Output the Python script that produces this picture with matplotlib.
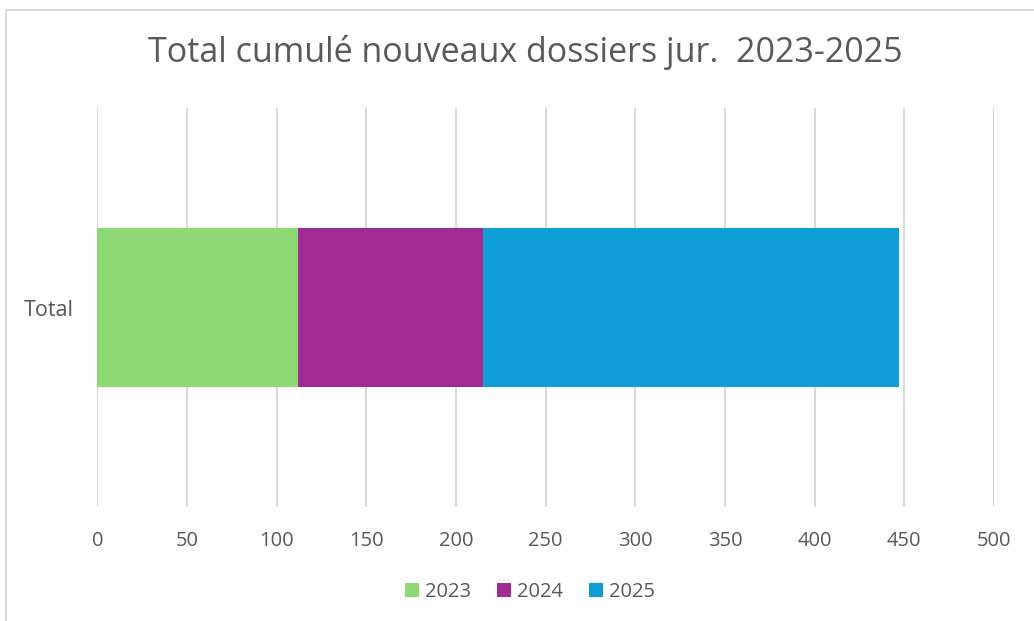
import matplotlib
matplotlib.use("Agg")
import matplotlib.pyplot as plt
from matplotlib.lines import Line2D

categories = ["Total"]
years = ["2023", "2024", "2025"]
values_2023 = [112]
values_2024 = [103]
values_2025 = [232]
colors = ["#8ED973", "#A02B93", "#0F9ED5"]
xticks = [0, 50, 100, 150, 200, 250, 300, 350, 400, 450, 500]

W, H = 1034, 621
fig = plt.figure(figsize=(W / 100, H / 100), dpi=100)
fig.patch.set_facecolor("white")

# outer chart frame (top and left edges visible)
fig.add_artist(Line2D([6 / W, 1], [1 - 10 / H, 1 - 10 / H], transform=fig.transFigure,
                      color="#D9D9D9", linewidth=1.5))
fig.add_artist(Line2D([6 / W, 6 / W], [0, 1 - 10 / H], transform=fig.transFigure,
                      color="#D9D9D9", linewidth=1.5))

ax = fig.add_axes([97.3 / W, 1 - 507 / H, (994 - 97.3) / W, (507 - 108) / H])

series = [values_2023, values_2024, values_2025]
left = [0] * len(categories)
for name, vals, col in zip(years, series, colors):
    ax.barh(categories, vals, left=left, height=0.4, color=col, label=name, zorder=3)
    left = [l + v for l, v in zip(left, vals)]

ax.set_xlim(0, 500)
ax.set_ylim(-0.5, 0.5)
ax.set_xticks(xticks)
ax.xaxis.grid(True, color="#D9D9D9", linewidth=1.5, zorder=0)
ax.yaxis.grid(False)
for s in ax.spines.values():
    s.set_visible(False)
ax.tick_params(axis="both", length=0, labelcolor="#595959", labelsize=14.5)
ax.tick_params(axis="x", pad=17)
ax.tick_params(axis="y", pad=17, labelsize=15.5)
for lab in ax.get_xticklabels() + ax.get_yticklabels():
    lab.set_family("Open Sans")

fig.text(525 / W, 1 - 53 / H, "Total cumulé nouveaux dossiers jur.  2023-2025",
         ha="center", va="center", fontsize=24.5, color="#595959", family="Open Sans")

leg = fig.legend(loc="center", bbox_to_anchor=(530 / W, 1 - 592 / H), ncol=3, frameon=False,
                 handlelength=0.7, handleheight=0.7, handletextpad=0.3, columnspacing=1.3,
                 prop={"family": "Open Sans", "size": 14.5})
for t in leg.get_texts():
    t.set_color("#595959")

fig.savefig("out.png", dpi=100, facecolor="white")
